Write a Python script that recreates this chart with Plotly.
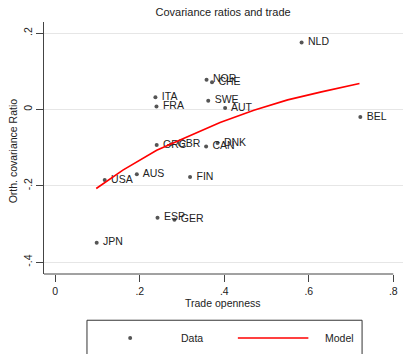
import plotly.graph_objects as go

countries = ["NLD", "NOR", "CHE", "ITA", "SWE", "FRA", "AUT", "BEL", "GRC", "GBR",
             "CAN", "DNK", "AUS", "USA", "FIN", "ESP", "GER", "JPN"]
openness = [0.583, 0.358, 0.371, 0.237, 0.362, 0.2395, 0.402, 0.722, 0.240, 0.274,
            0.357, 0.384, 0.193, 0.117, 0.319, 0.242, 0.282, 0.098]
cov_ratio = [0.175, 0.0775, 0.0715, 0.032, 0.0225, 0.008, 0.004, -0.020, -0.093, -0.091,
             -0.097, -0.088, -0.170, -0.185, -0.177, -0.284, -0.289, -0.349]

model_x = [0.097, 0.16, 0.24, 0.32, 0.39, 0.47, 0.55, 0.63, 0.72]
model_y = [-0.207, -0.159, -0.107, -0.067, -0.034, -0.002, 0.025, 0.046, 0.068]

y_ticks = [-0.4, -0.2, 0, 0.2]
y_ticklabels = ["-.4", "-.2", "0", ".2"]
x_ticks = [0, 0.2, 0.4, 0.6, 0.8]
x_ticklabels = ["0", ".2", ".4", ".6", ".8"]

FONT = "Liberation Sans, Arial, sans-serif"
TXT = "#222222"

fig = go.Figure()
fig.add_trace(go.Scatter(
    x=openness, y=cov_ratio, mode="markers+text", text=countries,
    texttemplate=" %{text}", hoverinfo="skip",
    textposition="middle right", textfont=dict(size=10.5, color=TXT, family=FONT),
    marker=dict(size=4, color="#555555"), name="Data", showlegend=False,
    cliponaxis=False))
fig.add_trace(go.Scatter(
    x=model_x, y=model_y, mode="lines", line=dict(color="#ff0000", width=1.6),
    name="Model", showlegend=False))

xmin, xmax = -0.0267, 0.823
ymin, ymax = -0.431, 0.229

fig.update_layout(
    width=403, height=354,
    margin=dict(l=43.7, r=0, t=21.7, b=80),
    paper_bgcolor="white", plot_bgcolor="white",
    font=dict(family=FONT, size=10, color=TXT),
    showlegend=False,
    title=dict(text="Covariance ratios and trade", x=0.5535, xanchor="center",
               xref="container", y=0.966, yref="container", yanchor="middle",
               font=dict(size=11, color=TXT, family=FONT)),
    xaxis=dict(range=[xmin, xmax], tickvals=x_ticks, ticktext=x_ticklabels,
               showgrid=False, zeroline=False, showline=False, automargin=False,
               ticks="outside", ticklen=7, tickcolor="#444444", tickwidth=1,
               tickfont=dict(size=10.5, color=TXT)),
    yaxis=dict(range=[ymin, ymax], tickvals=y_ticks, ticktext=y_ticklabels,
               showgrid=True, gridcolor="#e6e6e6", gridwidth=1, zeroline=False,
               showline=True, linecolor="#444444", linewidth=1, automargin=False,
               ticks="outside", ticklen=7, tickcolor="#444444", tickwidth=1,
               tickangle=-90, tickfont=dict(size=10.5, color=TXT)),
)

# axis titles
fig.add_annotation(text="Trade openness", xref="paper", yref="paper", x=0.499, y=-0.1165,
                   xanchor="center", yanchor="middle", showarrow=False,
                   font=dict(size=10.5, color=TXT))
fig.add_annotation(text="Orth. covariance Ratio", xref="paper", yref="paper", x=-0.0868,
                   y=0.49, xanchor="center", yanchor="middle", textangle=-90,
                   showarrow=False, font=dict(size=10.5, color=TXT))

# x axis line from left edge to last tick
fig.add_shape(type="line", xref="x", yref="paper", x0=xmin, x1=0.8, y0=0, y1=0,
              line=dict(color="#444444", width=1))

# legend box
fig.add_shape(type="rect", xref="paper", yref="paper", x0=0.1197, x1=0.886,
              y0=-0.40, y1=-0.1835, line=dict(color="#333333", width=1),
              fillcolor="white")
fig.add_shape(type="circle", xref="paper", yref="paper", xsizemode="pixel", ysizemode="pixel",
              xanchor=0.240, yanchor=-0.2537, x0=-2, x1=2, y0=-2, y1=2,
              fillcolor="#555555", line=dict(width=0))
fig.add_shape(type="line", xref="paper", yref="paper", x0=0.540, x1=0.7364,
              y0=-0.2537, y1=-0.2537, line=dict(color="#ff0000", width=1.6))
fig.add_annotation(text="Data", xref="paper", yref="paper", x=0.3773, y=-0.2537,
                   xanchor="left", yanchor="middle", showarrow=False,
                   font=dict(size=10.5, color=TXT))
fig.add_annotation(text="Model", xref="paper", yref="paper", x=0.7765, y=-0.2537,
                   xanchor="left", yanchor="middle", showarrow=False,
                   font=dict(size=10.5, color=TXT))

fig.write_html("out.html", config={"displayModeBar": False},
               post_script="document.body.style.margin='0';document.body.style.overflow='hidden';")
